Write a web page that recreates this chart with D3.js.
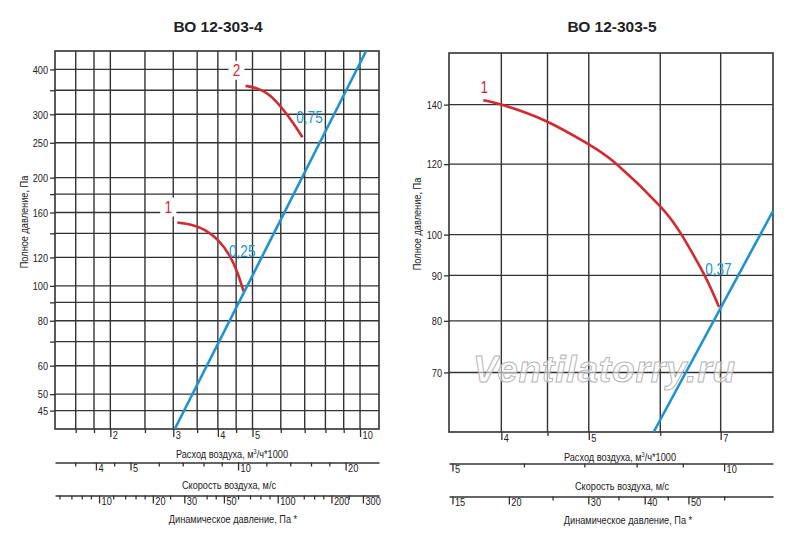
<!DOCTYPE html>
<html>
<head>
<meta charset="utf-8">
<script src="https://cdn.jsdelivr.net/npm/d3@7"></script>
<style>
body { margin: 0; background: #fff; }
text { font-family: 'Liberation Sans', Arial, sans-serif; }
</style>
</head>
<body>
<svg width="800" height="542"></svg>
<script>
// ВО 12-303-4
const leftFlowGrid = [1.6, 1.8, 2, 2.5, 3, 3.5, 4, 4.5, 5, 6, 7, 8, 9, 10]
const leftFlowLabels = [2, 3, 4, 5, 10]
const leftPressureGrid = [45, 50, 60, 70, 80, 90, 100, 120, 140, 160, 180, 200, 250, 300, 350, 400]
const leftPressureLabels = [45, 50, 60, 80, 100, 120, 160, 200, 250, 300, 400]
const leftVelocityTicks = [3.5, 4, 4.5, 5, 6, 7, 8, 9, 10, 12, 14, 16, 18, 20]
const leftVelocityLabels = [4, 5, 10, 20]
const leftDynamicTicks = [6, 7, 8, 9, 10, 12, 14, 16, 18, 20, 25, 30, 40, 45, 50, 60, 70, 80, 90, 100, 140, 160, 180, 200, 250, 300]
const leftDynamicLabels = [10, 20, 30, 50, 100, 200, 300]
const leftCurves = [
    [[3.08, 150], [3.4, 147.5], [3.7, 142.5], [4.0, 134], [4.3, 122], [4.54, 108.6], [4.72, 96.6]],
    [[4.78, 360], [5.1, 355], [5.49, 343], [5.8, 327], [6.11, 308], [6.51, 283], [6.9, 259]]
]
const leftCurveNames = ['1', '2']
const leftSystem = [[3.03, 40], [10.4, 450]]
const leftSystemName = [['0,25', 4.68, 124.7], ['0,75', 7.22, 294]]

// ВО 12-303-5
const rightFlowGrid = [4, 4.5, 5, 6, 7]
const rightFlowLabels = [4, 5, 7]
const rightPressureGrid = [70, 80, 90, 100, 120, 140]
const rightPressureLabels = [70, 80, 90, 100, 120, 140]
const rightVelocityTicks = [5, 6, 7, 8, 9, 10]
const rightVelocityLabels = [5, 10]
const rightDynamicTicks = [15, 20, 25, 30, 35, 40, 45, 50, 60]
const rightDynamicLabels = [15, 20, 30, 40, 50]
const rightCurves = [
    [[3.82, 141.6], [4.0, 140], [4.48, 134.2], [5.0, 126.3], [5.37, 120], [6.0, 107.6], [6.35, 99.6], [6.71, 90.2], [6.97, 82.9]]
]
const rightCurveNames = ['1']
const rightSystem = [[5.9, 60], [8.0, 106.3]]
const rightSystemName = [['0,37', 6.96, 91.5]]

const GRID = '#333'
const RED = '#d42a2f'
const BLUE = '#1d93d1'
const NARROW = 0.8

const svg = d3.select('svg')

// squeeze text horizontally, the reference uses a condensed face
function narrow(sel, extra = '') {
    sel.each(function () {
        const t = d3.select(this)
        const x = +t.attr('x') || 0
        t.attr('x', x / NARROW).attr('transform', `${extra} scale(${NARROW},1)`)
    })
}

function styleAxis(g, labels, bigTick) {
    g.attr('font-family', null).attr('font-size', 11.5)
    g.select('.domain').attr('stroke', GRID).attr('stroke-width', 1.4)
    g.selectAll('.tick line').attr('stroke', GRID).attr('stroke-width', 1.3)
    g.selectAll('.tick').filter(d => labels.includes(d)).select('line').attr('y2', bigTick)
    g.selectAll('.tick text')
        .attr('x', 2)
        .attr('dy', null)
        .attr('y', bigTick + 2)
        .attr('text-anchor', 'start')
        .attr('fill', '#222')
        .call(narrow)
}

function drawPanel(p) {
    const x = d3.scaleLog().domain(p.flowDomain).range([p.left, p.right])
    const y = d3.scaleLog().domain(p.pressureDomain).range([p.bottom, p.top])
    const g = svg.append('g')

    // grid
    g.selectAll('.vgrid').data(p.flowGrid).join('line')
        .attr('x1', d => x(d)).attr('x2', d => x(d))
        .attr('y1', p.top).attr('y2', p.bottom)
        .attr('stroke', GRID).attr('stroke-width', 1.4)
    g.selectAll('.hgrid').data(p.pressureGrid).join('line')
        .attr('x1', p.left).attr('x2', p.right)
        .attr('y1', d => y(d)).attr('y2', d => y(d))
        .attr('stroke', GRID).attr('stroke-width', 1.4)
    g.append('rect')
        .attr('x', p.left).attr('y', p.top)
        .attr('width', p.right - p.left).attr('height', p.bottom - p.top)
        .attr('fill', 'none').attr('stroke', GRID).attr('stroke-width', 1.6)

    // pressure axis
    const ya = g.append('g').attr('transform', `translate(${p.left},0)`)
        .call(d3.axisLeft(y).tickValues(p.pressureGrid).tickSize(5).tickPadding(2)
            .tickFormat(d => p.pressureLabels.includes(d) ? d : ''))
    ya.attr('font-family', null).attr('font-size', 11.5)
    ya.select('.domain').remove()
    ya.selectAll('.tick line').attr('stroke', GRID).attr('stroke-width', 1.3)
    ya.selectAll('.tick text').attr('fill', '#222').call(narrow)

    // flow axis
    const xa = g.append('g').attr('transform', `translate(0,${p.bottom})`)
        .call(d3.axisBottom(x).tickValues(p.flowGrid).tickSize(4).tickSizeOuter(0)
            .tickFormat(d => p.flowLabels.includes(d) ? d : ''))
    styleAxis(xa, p.flowLabels, 8)
    xa.select('.domain').remove()

    // velocity axis
    const v = d3.scaleLog().domain(p.flowDomain.map(q => q * p.k)).range([p.left, p.right])
    const va = g.append('g').attr('transform', `translate(0,${p.velY})`)
        .call(d3.axisBottom(v).tickValues(p.velocityTicks).tickSize(4).tickSizeOuter(0)
            .tickFormat(d => p.velocityLabels.includes(d) ? d : ''))
    styleAxis(va, p.velocityLabels, 8)

    // dynamic pressure axis
    const pd = d3.scaleLog().domain(p.flowDomain.map(q => 0.6 * (q * p.k) ** 2)).range([p.left, p.right])
    const pa = g.append('g').attr('transform', `translate(0,${p.dynY})`)
        .call(d3.axisBottom(pd).tickValues(p.dynamicTicks).tickSize(4).tickSizeOuter(0)
            .tickFormat(d => p.dynamicLabels.includes(d) ? d : ''))
    styleAxis(pa, p.dynamicLabels, 8)

    // titles
    g.append('text').attr('x', p.titleX).attr('y', 32)
        .attr('text-anchor', 'middle')
        .attr('font-weight', 'bold').attr('font-size', 15.5).attr('fill', '#222')
        .text(p.title)
    const t1 = g.append('text').attr('x', p.flowTitleX).attr('y', p.bottom + 29)
        .attr('text-anchor', 'middle').attr('font-size', 11.5).attr('fill', '#222')
    t1.append('tspan').text('Расход воздуха, м')
    t1.append('tspan').attr('font-size', 7).attr('dy', -4).text('3')
    t1.append('tspan').attr('dy', 4).text('/ч*1000')
    t1.call(narrow)
    g.append('text').attr('x', p.velTitleX).attr('y', p.velY + 27)
        .attr('text-anchor', 'middle').attr('font-size', 11.5).attr('fill', '#222')
        .text('Скорость воздуха, м/с')
        .call(narrow)
    g.append('text').attr('x', p.dynTitleX).attr('y', p.dynY + 28)
        .attr('text-anchor', 'middle').attr('font-size', 11.5).attr('fill', '#222')
        .text('Динамическое давление, Па *')
        .call(narrow)
    g.append('text')
        .attr('transform', `translate(${p.yTitleX},${p.yTitleY}) rotate(-90) scale(${NARROW},1)`)
        .attr('text-anchor', 'middle').attr('font-size', 11.5).attr('fill', '#222')
        .text('Полное давление, Па')

    // curves
    const line = d3.line().x(d => x(d[0])).y(d => y(d[1])).curve(d3.curveNatural)
    p.curves.forEach((c, i) => {
        g.append('path').attr('d', line(c))
            .attr('fill', 'none').attr('stroke', RED).attr('stroke-width', 2.6)
        const lx = x(c[0][0]) + p.nameDx, ly = y(c[0][1]) + p.nameDy
        if (p.nameBox) {
            g.append('rect').attr('x', lx - 8).attr('y', ly - 15)
                .attr('width', 16).attr('height', 19).attr('fill', '#fff')
        }
        g.append('text').attr('x', lx).attr('y', ly)
            .attr('text-anchor', 'middle').attr('font-size', 17).attr('fill', RED)
            .text(p.curveNames[i])
            .call(narrow)
    })
    g.append('path').attr('d', d3.line().x(d => x(d[0])).y(d => y(d[1]))(p.system))
        .attr('fill', 'none').attr('stroke', BLUE).attr('stroke-width', 2.6)
    p.systemNames.forEach(s => {
        g.append('text').attr('x', x(s[1])).attr('y', y(s[2]) + 6)
            .attr('text-anchor', 'middle').attr('font-size', 17).attr('fill', BLUE)
            .text(s[0])
            .call(narrow)
    })
}

drawPanel({
    title: 'ВО 12-303-4', titleX: 218,
    left: 55, right: 379, top: 51, bottom: 429,
    flowDomain: [1.4, 11.3], pressureDomain: [40, 450], k: 2.195,
    flowGrid: leftFlowGrid, flowLabels: leftFlowLabels,
    pressureGrid: leftPressureGrid, pressureLabels: leftPressureLabels,
    velocityTicks: leftVelocityTicks, velocityLabels: leftVelocityLabels,
    dynamicTicks: leftDynamicTicks, dynamicLabels: leftDynamicLabels,
    velY: 462.5, dynY: 495.5,
    flowTitleX: 232, velTitleX: 229, dynTitleX: 233,
    yTitleX: 28, yTitleY: 222,
    curves: leftCurves, curveNames: leftCurveNames, nameDx: -9, nameDy: -10, nameBox: true,
    system: leftSystem, systemNames: leftSystemName
})

drawPanel({
    title: 'ВО 12-303-5', titleX: 612,
    left: 449, right: 773, top: 53, bottom: 432,
    flowDomain: [3.5, 8], pressureDomain: [60, 160], k: 1.416,
    flowGrid: rightFlowGrid, flowLabels: rightFlowLabels,
    pressureGrid: rightPressureGrid, pressureLabels: rightPressureLabels,
    velocityTicks: rightVelocityTicks, velocityLabels: rightVelocityLabels,
    dynamicTicks: rightDynamicTicks, dynamicLabels: rightDynamicLabels,
    velY: 463.5, dynY: 496.5,
    flowTitleX: 620, velTitleX: 622, dynTitleX: 628,
    yTitleX: 421, yTitleY: 224,
    curves: rightCurves, curveNames: rightCurveNames, nameDx: 1, nameDy: -7, nameBox: false,
    system: rightSystem, systemNames: rightSystemName
})

// watermark
svg.append('text')
    .attr('x', 473).attr('y', 382)
    .attr('font-style', 'italic').attr('font-weight', 'bold')
    .attr('font-size', 37).attr('textLength', 262)
    .attr('fill', '#fff').attr('fill-opacity', 0.55)
    .attr('stroke', '#b5b5b5').attr('stroke-width', 1)
    .text('Ventilatorry.ru')
</script>
</body>
</html>
